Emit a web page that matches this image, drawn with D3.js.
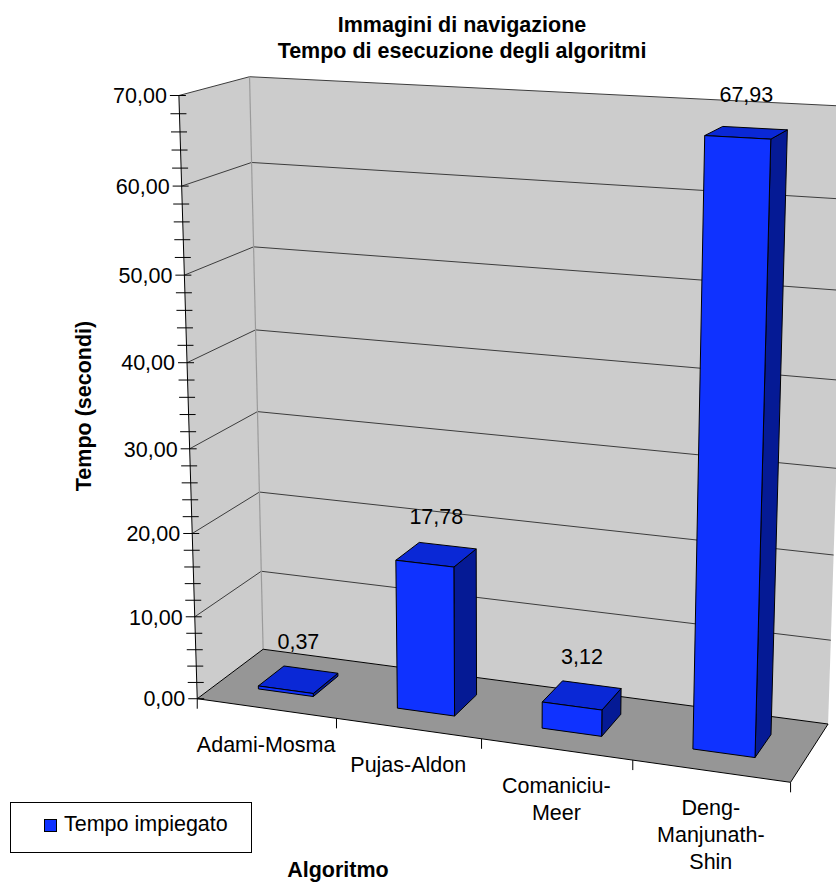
<!DOCTYPE html>
<html>
<head>
<meta charset="utf-8">
<script src="https://cdn.jsdelivr.net/npm/d3@7"></script>
<style>
  body { margin: 0; background: #fff; }
  text { font-family: "Liberation Sans", Arial, sans-serif; fill: #000; }
</style>
</head>
<body>
<svg id="chart" width="836" height="883"></svg>
<script>
// ---- data ----
const categories = ["Adami-Mosma", "Pujas-Aldon", "Comaniciu-Meer", "Deng-Manjunath-Shin"];
const values = [0.37, 17.78, 3.12, 67.93];
const seriesName = "Tempo impiegato";
const yTicks = [0, 10, 20, 30, 40, 50, 60, 70];
const titleLines = ["Immagini di navigazione", "Tempo di esecuzione degli algoritmi"];
const yTitle = "Tempo (secondi)";
const xTitle = "Algoritmo";

// ---- layout ----
const FONT = 21.5;
const colors = {
  wall: "#cccccc", floor: "#969696", grid: "#3c3c3c", corner: "#9a9a9a",
  front: "#0f32ff", top: "#0a28d6", side: "#051a95"
};
const svg = d3.select("#chart");

// Value, category and depth scales in normalised box units (0..1)
const yScale = d3.scaleLinear().domain([0, 70]).range([0, 1]);
const xBand = d3.scaleBand().domain(categories).range([0, 1]).paddingInner(0.6).paddingOuter(0.3);
const zBar = [0.3, 0.7];

// Perspective camera: fitted (DLT least squares) to screen positions of the
// plot box frame: box corners, wall gridline ends and axis tick marks.
const frame = [
  [0, 0, 0, 200, 699], [0, 1, 0, 180, 97], [0, 0, 1, 263, 650], [0, 1, 1, 249, 77],
  [1, 0, 1, 827, 723], [1, 0, 0, 789, 781], [1, 1, 1, 849, 106], [1, 1, 1, 849, 106],
  [0, 60/70, 0, 182, 187], [0, 60/70, 1, 252, 163],
  [0, 40/70, 0, 185, 363], [0, 30/70, 0, 188, 446], [0, 20/70, 0, 190, 529],
  [0.25, 0, 0, 338, 720], [0.5, 0, 0, 483, 741], [0.75, 0, 0, 633, 762]
];
function fitCamera(pts) {
  const S = 1000, n = 11;
  const M = d3.range(n).map(() => new Array(n + 1).fill(0));
  const add = (r, b) => {
    for (let i = 0; i < n; i++) {
      for (let j = 0; j < n; j++) M[i][j] += r[i] * r[j];
      M[i][n] += r[i] * b;
    }
  };
  pts.forEach(([X, Y, Z, u0, v0]) => {
    const u = u0 / S, v = v0 / S;
    add([X, Y, Z, 1, 0, 0, 0, 0, -u * X, -u * Y, -u * Z], u);
    add([0, 0, 0, 0, X, Y, Z, 1, -v * X, -v * Y, -v * Z], v);
  });
  for (let c = 0; c < n; c++) {
    let p = c;
    for (let r = c + 1; r < n; r++) if (Math.abs(M[r][c]) > Math.abs(M[p][c])) p = r;
    [M[c], M[p]] = [M[p], M[c]];
    for (let r = 0; r < n; r++) {
      if (r === c) continue;
      const f = M[r][c] / M[c][c];
      for (let j = c; j <= n; j++) M[r][j] -= f * M[c][j];
    }
  }
  const q = M.map((row, i) => row[n] / row[i]);
  return (X, Y, Z) => {
    const w = q[8] * X + q[9] * Y + q[10] * Z + 1;
    return [S * (q[0] * X + q[1] * Y + q[2] * Z + q[3]) / w,
            S * (q[4] * X + q[5] * Y + q[6] * Z + q[7]) / w];
  };
}
const P = fitCamera(frame);
const poly = pts => "M" + pts.map(p => p.join(",")).join("L") + "Z";
const seg = (a, b) => "M" + a.join(",") + "L" + b.join(",");

// ---- walls and floor ----
const g = svg.append("g");
g.append("path").attr("d", poly([P(0,0,1), P(1,0,1), P(1,1,1), P(0,1,1)])).attr("fill", colors.wall);
g.append("path").attr("d", poly([P(0,0,0), P(0,0,1), P(0,1,1), P(0,1,0)])).attr("fill", colors.wall);

// gridlines on the side and back walls
const gridVals = yTicks.filter(v => v > 0);
g.selectAll(".gridL").data(gridVals).join("path")
  .attr("d", v => seg(P(0, yScale(v), 0), P(0, yScale(v), 1)))
  .attr("stroke", colors.grid).attr("stroke-width", 1).attr("fill", "none");
g.selectAll(".gridB").data(gridVals).join("path")
  .attr("d", v => seg(P(0, yScale(v), 1), P(1, yScale(v), 1)))
  .attr("stroke", colors.grid).attr("stroke-width", 1).attr("fill", "none");
g.append("path").attr("d", seg(P(0,0,1), P(0,1,1)))
  .attr("stroke", colors.corner).attr("stroke-width", 1.2).attr("fill", "none");

// floor
g.append("path").attr("d", poly([P(0,0,0), P(1,0,0), P(1,0,1), P(0,0,1)]))
  .attr("fill", colors.floor).attr("stroke", "#000").attr("stroke-width", 1).attr("stroke-linejoin", "round");

// ---- bars ----
const bars = categories.map((c, i) => ({ c, v: values[i], x0: xBand(c), x1: xBand(c) + xBand.bandwidth() }));
const bg = svg.append("g").attr("stroke", "#000").attr("stroke-width", 1).attr("stroke-linejoin", "round");
bars.forEach(b => {
  const h = yScale(b.v), [z0, z1] = zBar;
  bg.append("path").attr("d", poly([P(b.x1,0,z0), P(b.x1,0,z1), P(b.x1,h,z1), P(b.x1,h,z0)])).attr("fill", colors.side);
  bg.append("path").attr("d", poly([P(b.x0,h,z0), P(b.x1,h,z0), P(b.x1,h,z1), P(b.x0,h,z1)])).attr("fill", colors.top);
  bg.append("path").attr("d", poly([P(b.x0,0,z0), P(b.x1,0,z0), P(b.x1,h,z0), P(b.x0,h,z0)])).attr("fill", colors.front);
});

// data labels above each bar
const fmt = d3.formatLocale({ decimal: ",", thousands: ".", grouping: [3], currency: ["", "€"] }).format(".2f");
svg.append("g").selectAll("text").data(bars).join("text")
  .attr("x", b => P((b.x0 + b.x1) / 2, yScale(b.v), 0.5)[0])
  .attr("y", b => P((b.x0 + b.x1) / 2, yScale(b.v), 0.5)[1] - 31)
  .attr("text-anchor", "middle").attr("font-size", FONT)
  .text(b => fmt(b.v));

// ---- value axis ----
const ax = svg.append("g");
ax.append("path").attr("d", seg(P(0,0,0), P(0,1,0))).attr("stroke", "#000").attr("stroke-width", 1);
const minor = d3.range(0, 70.001, 2);
ax.selectAll(".tk").data(minor).join("path")
  .attr("d", v => { const [x, y] = P(0, yScale(v), 0); return `M${x - 9},${y}H${x + 7}`; })
  .attr("stroke", "#000").attr("stroke-width", 1);
ax.selectAll(".lb").data(yTicks).join("text")
  .attr("x", v => P(0, yScale(v), 0)[0] - 12)
  .attr("y", v => P(0, yScale(v), 0)[1])
  .attr("dy", "0.36em").attr("text-anchor", "end").attr("font-size", FONT)
  .text(v => fmt(v));

// ---- category axis ----
const n = categories.length;
ax.selectAll(".ct").data(d3.range(n + 1).map(i => i / n)).join("path")
  .attr("d", X => { const [x, y] = P(X, 0, 0); return `M${x},${y}V${y + 10}`; })
  .attr("stroke", "#000").attr("stroke-width", 1);

// wrap a label after hyphens when it is wider than the category slot
function wrapLines(label, maxW) {
  const parts = label.split(/(?<=-)/);
  const probe = svg.append("text").attr("font-size", FONT);
  const width = s => probe.text(s).node().getComputedTextLength();
  const lines = [];
  let cur = "";
  parts.forEach(p => {
    if (cur && width(cur + p) > maxW) { lines.push(cur); cur = p; } else cur += p;
  });
  lines.push(cur);
  probe.remove();
  return lines;
}
categories.forEach((c, i) => {
  const [x, y] = P((i + 0.5) / n, 0, 0);
  const t = ax.append("text").attr("text-anchor", "middle").attr("font-size", FONT);
  wrapLines(c, 146).forEach((line, k) => {
    t.append("tspan").attr("x", x).attr("y", y + 44 + k * 27).text(line);
  });
});

// ---- titles ----
const tt = svg.append("text").attr("text-anchor", "middle").attr("font-size", FONT).attr("font-weight", "bold");
titleLines.forEach((l, k) => tt.append("tspan").attr("x", 462).attr("y", 31.5 + k * 26).text(l));
svg.append("text").attr("transform", "translate(90.5,406) rotate(-90)")
  .attr("text-anchor", "middle").attr("font-size", FONT).attr("font-weight", "bold").text(yTitle);
svg.append("text").attr("x", 338).attr("y", 877)
  .attr("text-anchor", "middle").attr("font-size", FONT).attr("font-weight", "bold").text(xTitle);

// ---- legend ----
const lg = svg.append("g");
lg.append("rect").attr("x", 10.5).attr("y", 802.5).attr("width", 241).attr("height", 50)
  .attr("fill", "#fff").attr("stroke", "#000").attr("stroke-width", 1);
lg.append("rect").attr("x", 44.5).attr("y", 819.5).attr("width", 12).attr("height", 12)
  .attr("fill", colors.front).attr("stroke", "#000").attr("stroke-width", 1);
lg.append("text").attr("x", 64).attr("y", 831).attr("font-size", FONT).text(seriesName);
</script>
</body>
</html>
